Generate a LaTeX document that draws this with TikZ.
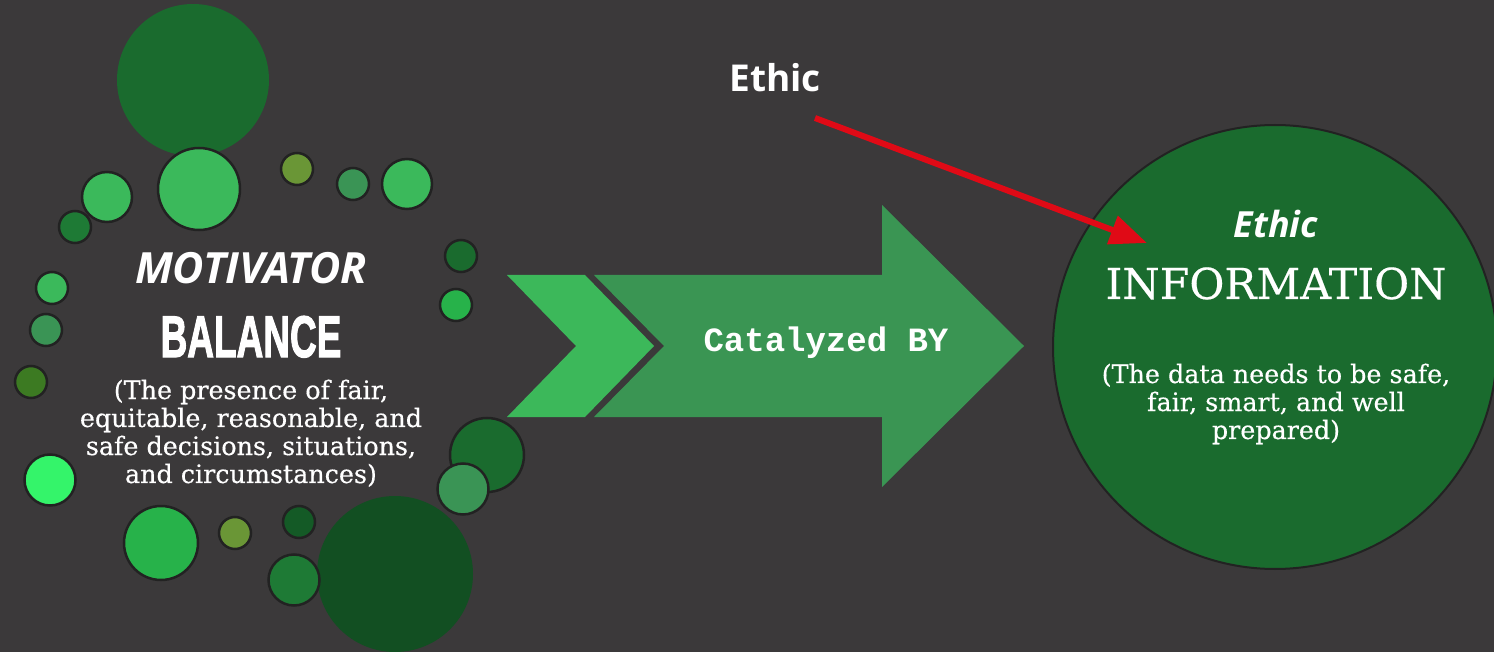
\documentclass[tikz,border=0pt]{standalone}
\usepackage{fontspec}
\setmainfont{DejaVu Serif}[FakeBold=0.4]
\newfontfamily\opensans{Open Sans}
\newfontfamily\heavysans[FakeBold=2.2]{Liberation Sans Bold}
\newfontfamily\codefont{Liberation Mono}
\usetikzlibrary{arrows.meta}

\definecolor{bg}{HTML}{3B393A}
\definecolor{dotedge}{HTML}{222222}
\definecolor{gDark}{HTML}{1A6B2E}
\definecolor{gDeep}{HTML}{124F22}
\definecolor{gLight}{HTML}{3BB95B}
\definecolor{gMid}{HTML}{3A9455}
\definecolor{gOlive}{HTML}{6A9636}
\definecolor{gOliveDark}{HTML}{3C7A22}
\definecolor{gBright}{HTML}{34F46A}
\definecolor{gVivid}{HTML}{27B24A}
\definecolor{gForest}{HTML}{1E7A35}
\definecolor{gNight}{HTML}{145A26}
\definecolor{chevron}{HTML}{3CB85A}
\definecolor{shaft}{HTML}{3A9553}
\definecolor{ethicred}{HTML}{E00A16}

\begin{document}
\begin{tikzpicture}[x=1pt,y=-1pt,
  blob/.style={circle,inner sep=0pt,minimum size=#1},
  dot/.style={circle,draw=dotedge,line width=2.5pt,inner sep=0pt,minimum size=#1},
  label/.style={text=white,inner sep=0pt},
  serifbody/.style={label,align=center,font=\fontsize{25.4}{28}\selectfont},
]
% canvas
\fill[bg] (0,0) rectangle (1494,652);
\useasboundingbox (0,0) rectangle (1494,652);

% ring of dots around the motivator text
\node[blob=152pt,fill=gDark] (topbig) at (193,80) {};
\node[dot=82pt,fill=gLight] (d1) at (199,189) {};
\node[dot=50pt,fill=gLight] (d2) at (107,197) {};
\node[dot=32pt,fill=gForest] (d3) at (75,227) {};
\node[dot=32pt,fill=gOlive] (d4) at (297,169) {};
\node[dot=32pt,fill=gMid] (d5) at (353,184) {};
\node[dot=50pt,fill=gLight] (d6) at (407,184) {};
\node[dot=32pt,fill=gDark] (d7) at (461,256) {};
\node[dot=32pt,fill=gVivid] (d8) at (456,305) {};
\node[dot=32pt,fill=gLight] (d9) at (52,288) {};
\node[dot=32pt,fill=gMid] (d10) at (46,330) {};
\node[dot=32pt,fill=gOliveDark] (d11) at (31,382) {};
\node[dot=51pt,fill=gBright] (d12) at (50,480) {};
\node[dot=74pt,fill=gDark] (d13) at (487,455) {};
\node[dot=51pt,fill=gMid] (d14) at (463,489) {};
\node[blob=156pt,fill=gDeep] (botbig) at (395,574) {};
\node[dot=74pt,fill=gVivid] (d15) at (161,543) {};
\node[dot=32pt,fill=gOlive] (d16) at (235,533) {};
\node[dot=32pt,fill=gNight] (d17) at (299,522) {};
\node[dot=51pt,fill=gForest] (d18) at (294,580) {};

% motivator text block
\node[label,anchor=base,font=\opensans\bfseries\itshape\fontsize{43}{43}\selectfont] (motiv) at (251,284) {MOTIVATOR};
\node[label,anchor=base,font=\heavysans\fontsize{58.7}{60}\selectfont] (balance) at (251,357) {\scalebox{0.63}[1]{BALANCE}};
\node[serifbody,anchor=north] (balancetxt) at (251,379.5) {(The presence of fair,\\equitable, reasonable, and\\safe decisions, situations,\\and circumstances)};

% chevron and arrow
\fill[chevron] (507,275) -- (585,275) -- (654,346) -- (585,417) -- (507,417) -- (576,346) -- cycle;
\fill[shaft] (594,275) -- (882,275) -- (882,205) -- (1024,346) -- (882,487) -- (882,417) -- (594,417) -- (664,346) -- cycle;
\node[label,anchor=base,font=\codefont\bfseries\fontsize{34}{34}\selectfont] (catalyzed) at (826,352) {Catalyzed BY};

% information circle
\node[circle,draw=dotedge,line width=2pt,fill=gDark,inner sep=0pt,minimum size=444pt] (info) at (1275,347) {};
\node[label,anchor=base,font=\opensans\bfseries\itshape\fontsize{36}{36}\selectfont] (ethicin) at (1276,238) {Ethic};
\node[label,anchor=base,font=\fontsize{42.7}{44}\selectfont] (infotitle) at (1276,299) {INFORMATION};
\node[serifbody,anchor=north] (infotxt) at (1276,363.5) {(The data needs to be safe,\\fair, smart, and well\\prepared)};

% ethic pointer
\node[label,anchor=base,font=\opensans\bfseries\fontsize{37}{37}\selectfont] (ethic) at (775,92) {Ethic};
\coordinate (ethicfrom) at (815,118);
\coordinate (ethicto) at (1147,243);
\draw[ethicred,line width=6pt,-{Triangle[length=37pt,width=29pt]}] (ethicfrom) -- (ethicto);
\end{tikzpicture}
\end{document}
